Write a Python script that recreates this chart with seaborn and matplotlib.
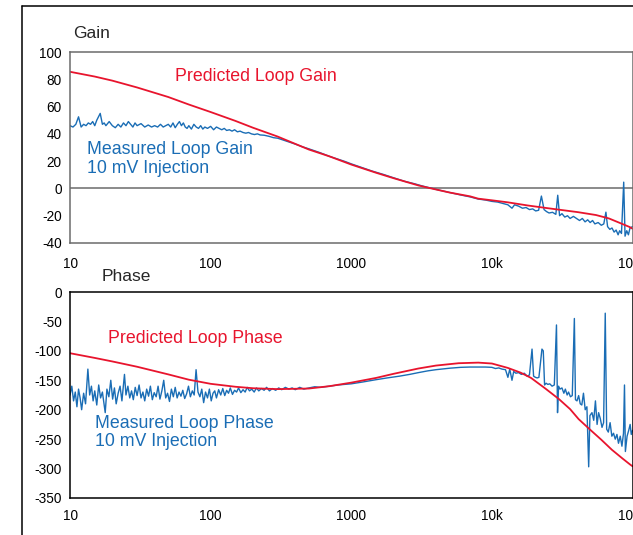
import numpy as np
import pandas as pd
import matplotlib
matplotlib.use("Agg")
import matplotlib.pyplot as plt
from matplotlib.lines import Line2D
import seaborn as sns

# Valores (frecuencia en Hz, ganancia en dB, fase en grados)
gain_pred = [(10, 85.5), (15, 82), (20, 79), (30, 74), (50, 67), (70, 61.5), (100, 56),
             (150, 49.5), (200, 44.5), (300, 38), (500, 28.5), (700, 23.5), (1000, 17.5),
             (1500, 11.5), (2000, 7.5), (3000, 2.2), (3600, 0.3), (5000, -3), (7000, -5.8),
             (8000, -7.5), (10000, -8.7), (13000, -10.2), (18000, -12.5), (25000, -14.5),
             (41000, -17.4), (55000, -19.5), (68000, -22), (80000, -25), (95000, -28.2),
             (100000, -29.5)]

gain_meas = [(10, 46), (10.5, 45), (11, 47), (11.5, 52.5), (12, 45), (12.5, 47), (13, 46),
             (13.5, 48), (14, 47), (14.5, 49), (15, 46), (15.5, 50), (16.4, 55), (17, 47),
             (17.5, 48), (18, 46), (19, 49), (20, 46), (21, 44.5), (22, 47), (23, 45),
             (24, 48), (25, 46), (26, 49), (27, 47), (28, 45), (29, 48), (30, 46), (32, 47.5),
             (34, 45), (36, 46.5), (38, 45), (40, 46), (42, 45), (44, 47), (46, 45), (48, 46),
             (50, 47), (52, 45), (54, 48), (56, 44.5), (58, 47), (60, 49), (62, 46), (64, 48),
             (66, 45), (68, 44), (70, 46), (73, 43.5), (76, 47), (79, 45), (82, 44), (85, 46),
             (88, 43.5), (91, 45), (95, 44), (100, 45.5), (105, 43), (110, 45), (115, 44),
             (120, 43), (125, 44), (130, 42.5), (136, 43), (142, 42), (148, 43), (155, 41.5),
             (162, 42), (170, 41), (178, 40.5), (186, 41), (195, 40), (205, 39.5), (215, 40),
             (225, 39.2), (240, 39), (260, 38.2), (280, 37.2), (300, 36.8), (350, 34.5),
             (400, 32.5), (450, 30.5), (500, 29), (550, 27.5), (600, 26.2), (700, 23.5),
             (800, 21.5), (900, 19.8), (1000, 18), (1200, 15.2), (1400, 12.8), (1700, 10.2),
             (2000, 7.8), (2400, 5.2), (2800, 3.5), (3200, 1.8), (3600, 0.5), (4200, -1.2),
             (5000, -3), (6000, -4.8), (7000, -6.2), (8000, -7.8), (9000, -8.5),
             (10000, -9.5), (11000, -10), (12000, -11), (13000, -12), (13900, -14.5),
             (14500, -12), (15500, -13), (16500, -14.5), (17500, -14), (18500, -15.5),
             (19500, -15), (20500, -16.5), (21500, -16), (22500, -5.6), (23500, -15.5),
             (24500, -17), (25500, -18), (27000, -17.5), (28500, -19), (29400, -5),
             (30300, -20), (31500, -18.5), (33000, -21), (34500, -20), (36000, -22),
             (38000, -20.5), (40000, -22), (42000, -23.5), (44000, -22), (46000, -24.5),
             (48000, -23), (50000, -25), (52000, -23.5), (54000, -26), (57000, -25),
             (60000, -27), (62500, -26), (64700, -17.4), (66500, -28), (69000, -30),
             (71500, -29), (74000, -32), (76500, -30.5), (79000, -34), (81000, -31),
             (83500, -33), (86600, 4.6), (88500, -35), (91000, -31), (93500, -34),
             (96000, -29), (100000, -28)]

phase_pred = [(10, -104), (15, -112), (20, -118), (30, -127), (50, -140), (70, -149),
              (100, -156), (150, -161), (200, -163.5), (300, -165), (500, -164),
              (700, -160), (1000, -154), (1500, -146), (2000, -139), (3000, -130),
              (4000, -125), (5800, -121), (8000, -120), (10000, -121.5), (13000, -129),
              (16000, -137), (19000, -146), (24000, -164), (30000, -182), (36000, -199),
              (41400, -216), (50000, -234), (60000, -251), (71300, -268), (85000, -283),
              (96000, -293), (100000, -296)]

phase_meas = [(10, -175), (10.3, -160), (10.6, -185), (10.9, -170), (11.2, -195),
              (11.5, -165), (11.8, -180), (12.1, -200), (12.5, -172), (12.9, -190),
              (13.4, -131), (13.8, -175), (14.2, -160), (14.6, -185), (15.0, -168),
              (15.5, -192), (16.0, -158), (16.5, -180), (17.0, -170), (17.8, -205),
              (18.3, -165), (18.9, -178), (19.5, -150), (20.1, -182), (20.7, -163),
              (21.3, -190), (22.0, -172), (22.7, -160), (23.4, -185), (24.4, -140),
              (25.0, -175), (25.8, -160), (26.6, -180), (27.4, -168), (28.2, -183),
              (29.1, -162), (30.0, -176), (31.0, -158), (32.0, -180), (33.0, -170),
              (34.0, -185), (35.1, -165), (36.2, -177), (37.3, -160), (38.5, -183),
              (39.7, -171), (41.0, -178), (42.3, -160), (43.6, -182), (45.0, -168),
              (46.4, -150), (47.9, -180), (49.4, -172), (51.0, -186), (52.6, -165),
              (54.3, -178), (56.0, -162), (57.8, -180), (59.6, -170), (61.5, -177),
              (63.4, -167), (65.4, -181), (67.5, -173), (69.6, -160), (71.8, -178),
              (74.1, -168), (76.4, -175), (78.8, -132), (81.3, -170), (83.9, -178),
              (86.5, -165), (89.2, -188), (92.0, -170), (95.0, -180), (98.0, -165),
              (101, -185), (104, -172), (107, -168), (110, -180), (114, -166), (118, -175),
              (122, -164), (126, -176), (130, -167), (134, -172), (138, -163), (143, -174),
              (148, -167), (153, -170), (158, -163), (164, -171), (170, -166), (176, -170),
              (182, -162), (189, -168), (196, -165), (204, -170), (212, -163), (220, -168),
              (230, -164), (240, -167), (250, -162), (262, -168), (275, -164), (290, -167),
              (305, -163), (320, -166), (340, -162), (360, -165), (380, -163), (400, -166),
              (430, -162), (460, -165), (500, -163), (550, -161), (600, -162), (700, -160),
              (800, -158), (1000, -156), (1200, -153), (1500, -149), (1800, -146),
              (2200, -143), (2600, -140), (3000, -137), (3500, -134), (4000, -132),
              (5000, -129.5), (6000, -128), (7000, -127.5), (8000, -127.5), (9000, -127.5),
              (10000, -128), (10600, -130), (11200, -129), (11800, -131), (12500, -132),
              (13000, -145), (13400, -131), (13900, -150), (14300, -135), (14800, -138),
              (15500, -137), (16200, -140), (17000, -138), (17800, -143), (18500, -141),
              (19300, -97), (19800, -143), (20400, -145), (21000, -146), (21600, -145),
              (22700, -97), (23200, -100), (23700, -158), (24300, -155), (25000, -157),
              (25800, -156), (26800, -160), (27800, -158), (28800, -56), (29300, -205),
              (29800, -160), (30500, -165), (31500, -163), (32500, -172), (33300, -165),
              (34300, -175), (35100, -170), (36200, -178), (37300, -176), (38600, -45),
              (39300, -183), (40300, -185), (41400, -176), (42500, -190), (43600, -192),
              (44800, -172), (46100, -200), (47400, -195), (48800, -297), (49800, -210),
              (51500, -205), (53000, -218), (54500, -185), (56000, -225), (57400, -205),
              (59000, -215), (60700, -230), (62300, -222), (64000, -36), (65500, -233),
              (67300, -238), (69300, -222), (71300, -245), (73300, -240), (75400, -250),
              (77500, -242), (79500, -257), (81800, -245), (84100, -262), (86300, -240),
              (87700, -158), (89000, -271), (91500, -245), (94000, -235), (96200, -225),
              (98000, -242), (100000, -235)]

x_ticks = [10, 100, 1000, 10000, 100000]
x_labels = ["10", "100", "1000", "10k", "100k"]
gain_ticks = [-40, -20, 0, 20, 40, 60, 80, 100]
phase_ticks = [0, -50, -100, -150, -200, -250, -300, -350]

RED = "#e8142d"
BLUE = "#1a6db5"
GRAY = "#6b6b6b"

sns.set_style("white")
plt.rcParams["font.family"] = ["Liberation Sans", "DejaVu Sans"]
plt.rcParams["axes.unicode_minus"] = False

W, H = 633, 535
fig = plt.figure(figsize=(W / 100, H / 100), dpi=100)


def frac(x0, y0, x1, y1):
    # caja en pixeles (desde arriba) -> fracciones de la figura
    return [x0 / W, 1 - y1 / H, (x1 - x0) / W, (y1 - y0) / H]


ax_g = fig.add_axes(frac(70, 52, 632.5, 243))
ax_p = fig.add_axes(frac(70, 292, 632.5, 498))


def draw(ax, pred, meas):
    mp = pd.DataFrame(meas, columns=["f", "v"])
    pp = pd.DataFrame(pred, columns=["f", "v"])
    sns.lineplot(data=mp, x="f", y="v", ax=ax, color=BLUE, linewidth=1.0,
                 estimator=None, sort=False)
    sns.lineplot(data=pp, x="f", y="v", ax=ax, color=RED, linewidth=1.3,
                 estimator=None, sort=False)
    ax.set_xscale("log")
    ax.set_xlim(10, 100000)
    ax.set_xticks(x_ticks)
    ax.set_xticklabels(x_labels)
    ax.minorticks_off()
    ax.set_xlabel("")
    ax.set_ylabel("")
    ax.tick_params(axis="both", length=0, labelsize=9.8, colors="black")
    ax.tick_params(axis="y", pad=6)


draw(ax_g, gain_pred, gain_meas)
ax_g.set_ylim(-40, 100)
ax_g.set_yticks(gain_ticks)
ax_g.tick_params(axis="x", pad=10)
ax_g.axhline(0, color=GRAY, linewidth=1.1, zorder=0)
for s in ax_g.spines.values():
    s.set_color(GRAY)
    s.set_linewidth(1.1)

draw(ax_p, phase_pred, phase_meas)
ax_p.set_ylim(-350, 0)
ax_p.set_yticks(phase_ticks)
ax_p.tick_params(axis="x", pad=8)
for s in ax_p.spines.values():
    s.set_color("black")
    s.set_linewidth(1.1)

# textos
ax_g.text(55.5, 81.7, "Predicted Loop Gain", color=RED, fontsize=12.8, va="center")
ax_g.text(13.2, 21.6, "Measured Loop Gain\n10 mV Injection", color=BLUE, fontsize=12.8,
          va="center", linespacing=1.1)
ax_p.text(18.6, -78.7, "Predicted Loop Phase", color=RED, fontsize=12.8, va="center")
ax_p.text(15.0, -239, "Measured Loop Phase\n10 mV Injection", color=BLUE, fontsize=12.8,
          va="center", linespacing=1.1)

fig.text(72.7 / W, 1 - 33.3 / H, "Gain", fontsize=12.5, va="center")
fig.text(101.7 / W, 1 - 276.3 / H, "Phase", fontsize=12.5, va="center")

# marco exterior (solo arriba e izquierda visibles)
fig.add_artist(Line2D([22 / W, 1.0], [1 - 6 / H, 1 - 6 / H], color="black", linewidth=1.1))
fig.add_artist(Line2D([22 / W, 22 / W], [0, 1 - 6 / H], color="black", linewidth=1.1))

fig.savefig("out.png", dpi=100)
